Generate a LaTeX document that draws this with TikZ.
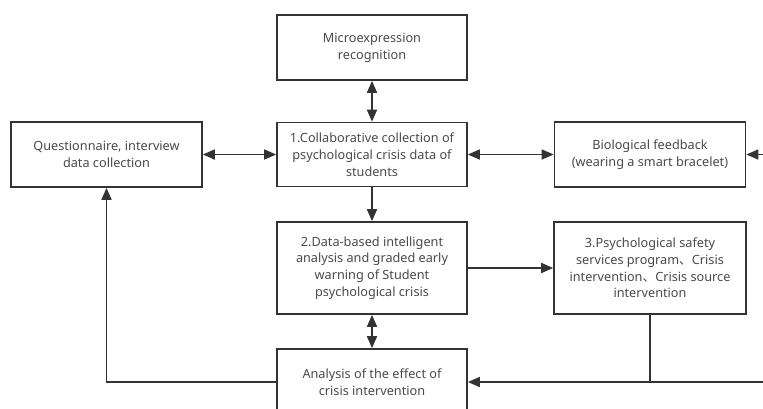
\documentclass[tikz,border=0pt]{standalone}
\usepackage{fontspec}
\setmainfont{Noto Sans}
\newfontfamily\cjk{Noto Sans CJK SC}
\usetikzlibrary{arrows.meta}
\definecolor{linec}{HTML}{333333}
\definecolor{textc}{HTML}{4A4A4A}
\begin{document}
\begin{tikzpicture}[x=1pt,y=-1pt,
  box/.style={draw=linec,line width=1.7pt,fill=white,inner sep=0pt,align=center,
    text=textc,font=\fontsize{12.7}{16.7}\selectfont,minimum width=190pt},
  conn/.style={draw=linec,line width=1.7pt},
  tip/.style={-{Triangle[length=12pt,width=10pt]}},
  dtip/.style={{Triangle[length=12pt,width=10pt]}-{Triangle[length=12pt,width=10pt]}}]
\useasboundingbox (0,0) rectangle (763,408);
\node[box,minimum height=65pt] (micro) at (372,47.5) {Microexpression\\recognition};
\node[box,minimum height=64pt] (c1) at (372,154.5) {1.Collaborative collection of\\psychological crisis data of\\students};
\node[box,minimum height=65pt,minimum width=191pt] (quest) at (106.5,154.5) {Questionnaire, interview\\data collection};
\node[box,minimum height=65pt,minimum width=191pt] (bio) at (650,154.5) {Biological feedback\\(wearing a smart bracelet)};
\node[box,minimum height=92pt] (c2) at (372,268) {2.Data-based intelligent\\analysis and graded early\\warning of Student\\psychological crisis};
\node[box,minimum height=92pt,minimum width=192pt] (c3) at (650,268) {3.Psychological safety\\services program{\cjk 、}Crisis\\intervention{\cjk 、}Crisis source\\intervention};
\node[box,minimum height=66pt] (ana) at (372,382) {Analysis of the effect of\\crisis intervention};
\coordinate (rin) at (765,154.5);
\coordinate (rbot) at (765,382);
\coordinate (join) at (c3.south |- ana.east);
\coordinate (lc) at (quest.south |- ana.west);
\draw[conn,dtip] (micro) -- (c1);
\draw[conn,dtip] (quest) -- (c1);
\draw[conn,dtip] (c1) -- (bio);
\draw[conn,tip] (rin) -- (bio);
\draw[conn,tip] (c1) -- (c2);
\draw[conn,tip] (c2) -- (c3);
\draw[conn,dtip] (c2) -- (ana);
\draw[conn,tip] (rbot) -- (ana.east);
\draw[conn] (c3.south) -- (join);
\draw[conn,tip] (ana.west) -- (lc) -- (quest.south);
\end{tikzpicture}
\end{document}
